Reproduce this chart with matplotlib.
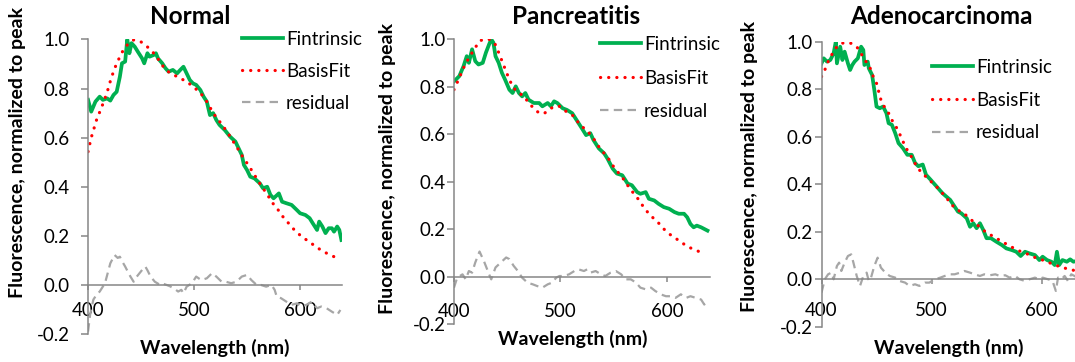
import numpy as np
import matplotlib.pyplot as plt

plt.rcParams['font.family'] = ['Lato', 'DejaVu Sans']

# ---- Normal ----
normal_wl = [400, 403, 407, 411, 414, 418, 421, 424, 427, 430, 432, 435, 437, 439, 441, 444, 447, 451,
             453, 456, 458, 462, 464, 466, 470, 473, 476, 480, 484, 487, 490, 493, 496, 499, 502, 506,
             509, 512, 515, 518, 521, 524, 529, 534, 539, 542, 545, 547, 550, 553, 557, 562, 565, 569,
             572, 575, 580, 583, 587, 592, 597, 600, 605, 609, 612, 616, 618, 621, 624, 627, 630, 632,
             635, 637, 639]
normal_fint = [0.754, 0.706, 0.747, 0.767, 0.754, 0.760, 0.751, 0.774, 0.787, 0.848, 0.903, 0.910, 1.000,
               0.944, 0.985, 0.971, 0.950, 0.923, 0.903, 0.944, 0.930, 0.937, 0.944, 0.923, 0.903, 0.883,
               0.869, 0.876, 0.862, 0.876, 0.889, 0.862, 0.835, 0.821, 0.815, 0.794, 0.767, 0.747, 0.692,
               0.700, 0.672, 0.652, 0.631, 0.604, 0.584, 0.557, 0.530, 0.489, 0.468, 0.441, 0.434, 0.414,
               0.394, 0.400, 0.367, 0.353, 0.373, 0.339, 0.333, 0.326, 0.305, 0.292, 0.285, 0.272, 0.251,
               0.224, 0.258, 0.238, 0.211, 0.231, 0.231, 0.217, 0.238, 0.224, 0.183]
normal_fit_wl = [400, 403, 408, 413, 418, 422, 427, 433, 437, 443, 448, 452, 457, 462, 467, 471, 476, 481,
                 486, 490, 495, 499, 504, 509, 513, 518, 523, 528, 532, 537, 542, 547, 551, 556, 561, 565,
                 570, 573, 578, 583, 589, 595, 602, 609, 615, 622, 627, 632]
normal_fit = [0.543, 0.600, 0.672, 0.726, 0.785, 0.845, 0.903, 0.955, 0.978, 0.998, 0.995, 0.985, 0.966,
              0.944, 0.915, 0.889, 0.868, 0.855, 0.845, 0.835, 0.822, 0.808, 0.790, 0.767, 0.740, 0.700,
              0.672, 0.643, 0.618, 0.584, 0.550, 0.514, 0.490, 0.455, 0.420, 0.394, 0.362, 0.339, 0.314,
              0.282, 0.252, 0.222, 0.195, 0.175, 0.155, 0.136, 0.125, 0.115]
normal_res_wl = [400, 402, 405, 408, 411, 416, 421, 425, 428, 430, 433, 435, 438, 440, 443, 446, 451, 454,
                 456, 459, 463, 468, 471, 474, 477, 481, 485, 488, 490, 493, 498, 502, 505, 507, 512, 517,
                 521, 526, 530, 535, 540, 545, 550, 554, 559, 563, 568, 573, 576, 578, 582, 587, 592, 597,
                 601, 606, 611, 616, 620, 625, 630, 635, 638]
normal_res = [-0.190, -0.120, -0.060, -0.040, -0.027, 0.007, 0.088, 0.122, 0.110, 0.115, 0.090, 0.075,
              0.050, 0.034, 0.013, 0.034, 0.061, 0.075, 0.060, 0.034, 0.013, 0.000, 0.005, 0.000, -0.005,
              -0.014, -0.027, -0.020, -0.034, -0.007, 0.007, 0.034, 0.025, 0.020, 0.027, 0.048, 0.034,
              0.013, 0.013, 0.007, 0.013, 0.034, 0.041, 0.020, 0.000, 0.000, -0.007, 0.000, -0.020, -0.048,
              -0.054, -0.068, -0.081, -0.075, -0.088, -0.081, -0.068, -0.095, -0.088, -0.095, -0.109,
              -0.122, -0.102]

# ---- Pancreatitis ----
panc_wl = [400, 405, 409, 412, 414, 417, 420, 423, 427, 430, 433, 435, 437, 439, 442, 445, 448, 452, 455,
           458, 461, 464, 467, 470, 475, 480, 483, 488, 491, 494, 497, 502, 506, 511, 516, 520, 524, 528,
           531, 536, 541, 544, 549, 553, 558, 563, 567, 572, 575, 580, 583, 588, 592, 597, 602, 607, 611,
           616, 619, 622, 625, 628, 632, 635, 638]
panc_fint = [0.823, 0.845, 0.887, 0.929, 0.901, 0.958, 0.908, 0.894, 0.901, 0.944, 0.979, 1.000, 0.986,
             0.929, 0.901, 0.859, 0.830, 0.788, 0.774, 0.802, 0.774, 0.760, 0.774, 0.746, 0.732, 0.732,
             0.718, 0.732, 0.718, 0.739, 0.732, 0.710, 0.703, 0.689, 0.654, 0.626, 0.597, 0.605, 0.576,
             0.541, 0.520, 0.499, 0.456, 0.435, 0.428, 0.393, 0.386, 0.357, 0.350, 0.357, 0.329, 0.322,
             0.308, 0.294, 0.287, 0.273, 0.266, 0.266, 0.251, 0.223, 0.209, 0.216, 0.209, 0.202, 0.195]
panc_fit_wl = [400, 405, 409, 414, 419, 424, 428, 433, 438, 442, 447, 452, 456, 461, 466, 470, 475, 480,
               485, 489, 494, 499, 503, 508, 513, 517, 522, 527, 532, 536, 541, 546, 550, 555, 560, 564,
               569, 574, 578, 583, 588, 593, 597, 602, 607, 611, 616, 621, 625, 630, 635]
panc_fit = [0.788, 0.838, 0.880, 0.922, 0.958, 0.993, 1.000, 1.000, 0.986, 0.944, 0.887, 0.830, 0.795,
            0.774, 0.760, 0.732, 0.710, 0.689, 0.689, 0.703, 0.718, 0.718, 0.703, 0.689, 0.675, 0.647,
            0.626, 0.605, 0.576, 0.548, 0.520, 0.492, 0.463, 0.435, 0.407, 0.379, 0.350, 0.322, 0.294,
            0.266, 0.244, 0.223, 0.202, 0.181, 0.167, 0.153, 0.138, 0.124, 0.117, 0.107, 0.099]
panc_res_wl = [400, 403, 408, 411, 414, 417, 420, 424, 428, 433, 435, 439, 444, 449, 452, 456, 460, 464,
               469, 474, 478, 483, 488, 492, 496, 499, 503, 508, 513, 517, 522, 525, 528, 533, 538, 542,
               547, 552, 557, 561, 566, 571, 575, 580, 585, 589, 594, 599, 603, 608, 613, 618, 622, 627,
               632, 635, 636]
panc_res = [-0.045, -0.003, 0.011, -0.010, 0.025, 0.018, 0.061, 0.107, 0.068, 0.011, -0.010, 0.040, 0.061,
            0.082, 0.075, 0.047, 0.025, -0.003, -0.024, -0.031, -0.038, -0.045, -0.031, -0.024, -0.003,
            0.004, 0.004, 0.011, 0.025, 0.032, 0.025, 0.032, 0.018, 0.025, 0.011, 0.004, 0.018, 0.025,
            0.011, -0.010, -0.010, -0.024, -0.045, -0.052, -0.045, -0.059, -0.073, -0.081, -0.081, -0.088,
            -0.073, -0.088, -0.081, -0.088, -0.095, -0.116, -0.109]

# ---- Adenocarcinoma ----
adeno_wl = [400, 402, 405, 408, 411, 413, 414, 417, 419, 421, 424, 426, 428, 430, 433, 436, 438, 439, 442,
            443, 446, 448, 450, 453, 456, 459, 461, 464, 467, 470, 474, 478, 482, 485, 488, 492, 495, 499,
            503, 507, 510, 517, 521, 524, 527, 532, 535, 538, 541, 544, 547, 550, 554, 559, 564, 568, 573,
            577, 581, 585, 589, 594, 598, 601, 605, 609, 612, 614, 616, 619, 623, 626, 629, 633, 636, 640]
adeno_fint = [0.909, 0.930, 0.916, 0.923, 0.951, 1.000, 0.909, 0.979, 0.923, 0.958, 0.909, 0.881, 0.902,
              0.916, 0.930, 0.979, 0.965, 0.902, 0.916, 0.888, 0.860, 0.797, 0.727, 0.720, 0.727, 0.699,
              0.657, 0.650, 0.615, 0.573, 0.552, 0.524, 0.524, 0.490, 0.476, 0.483, 0.440, 0.420, 0.399,
              0.378, 0.362, 0.334, 0.306, 0.285, 0.278, 0.257, 0.221, 0.236, 0.215, 0.236, 0.208, 0.173,
              0.173, 0.158, 0.144, 0.130, 0.123, 0.116, 0.098, 0.116, 0.109, 0.102, 0.081, 0.095, 0.081,
              0.074, 0.060, 0.116, 0.060, 0.081, 0.074, 0.084, 0.074, 0.078, 0.072, 0.075]
adeno_fit_wl = [400, 403, 406, 410, 414, 418, 423, 427, 432, 436, 439, 442, 445, 447, 450, 452, 454, 457,
                461, 464, 467, 470, 473, 476, 480, 485, 489, 493, 497, 501, 506, 510, 514, 518, 523, 527,
                531, 535, 540, 544, 549, 554, 559, 564, 570, 575, 580, 586, 591, 596, 601, 607, 612, 617,
                622, 627, 630, 635, 640]
adeno_fit = [0.853, 0.881, 0.916, 0.951, 0.979, 0.993, 0.997, 0.993, 0.979, 0.951, 0.923, 0.909, 0.881,
             0.853, 0.825, 0.790, 0.755, 0.727, 0.699, 0.670, 0.649, 0.621, 0.593, 0.558, 0.530, 0.488,
             0.460, 0.439, 0.425, 0.404, 0.383, 0.362, 0.341, 0.313, 0.299, 0.278, 0.271, 0.254, 0.236,
             0.219, 0.200, 0.186, 0.173, 0.158, 0.144, 0.130, 0.119, 0.109, 0.098, 0.088, 0.081, 0.070,
             0.060, 0.053, 0.046, 0.042, 0.036, 0.030, 0.025]
adeno_res_wl = [400, 403, 406, 409, 411, 414, 416, 418, 421, 424, 427, 429, 432, 435, 438, 441, 443, 445,
                448, 451, 454, 458, 462, 467, 471, 476, 480, 485, 489, 494, 498, 503, 508, 512, 517, 521,
                526, 530, 535, 539, 544, 548, 553, 558, 562, 567, 571, 576, 580, 585, 589, 594, 598, 601,
                606, 610, 613, 615, 618, 621, 624, 627, 630, 635, 640]
adeno_res = [-0.056, 0.000, 0.021, 0.028, 0.000, 0.056, 0.070, 0.035, 0.070, 0.098, 0.105, 0.070, 0.014,
             -0.028, 0.014, 0.028, -0.007, 0.007, 0.056, 0.091, 0.049, 0.028, 0.014, 0.007, -0.007, -0.014,
             -0.028, -0.021, -0.028, -0.014, -0.014, 0.000, 0.007, 0.014, 0.021, 0.021, 0.028, 0.035,
             0.028, 0.021, 0.014, 0.021, 0.017, 0.021, 0.014, 0.017, 0.007, 0.014, 0.000, -0.007, 0.000,
             0.007, 0.000, 0.007, 0.000, -0.007, -0.049, 0.007, 0.000, 0.014, -0.007, 0.021, 0.014, 0.000,
             -0.010]

GREEN = '#00B050'
RED = '#FF0000'
GREY = '#A6A6A6'
AXIS = '#868686'

panels = [
    dict(title='Normal', rect=[0.0819, 0.0773, 0.2367, 0.8136],
         data=(normal_wl, normal_fint, normal_fit_wl, normal_fit, normal_res_wl, normal_res),
         title_xy=(190, 16), ylab_xy=(18, 152), xlab_xy=(215, 348),
         leg_xy=(242, 31), leg_sp=0.8, xpad=9, ypad=8),
    dict(title='Pancreatitis', rect=[0.4223, 0.1036, 0.2378, 0.7878],
         data=(panc_wl, panc_fint, panc_fit_wl, panc_fit, panc_res_wl, panc_res),
         title_xy=(576, 16), ylab_xy=(387, 168), xlab_xy=(573, 339),
         leg_xy=(600, 36), leg_sp=0.88, xpad=15, ypad=1),
    dict(title='Adenocarcinoma', rect=[0.7642, 0.0972, 0.2456, 0.7876],
         data=(adeno_wl, adeno_fint, adeno_fit_wl, adeno_fit, adeno_res_wl, adeno_res),
         title_xy=(941, 16), ylab_xy=(750, 166), xlab_xy=(949, 348),
         leg_xy=(932, 59), leg_sp=0.84, xpad=13, ypad=1.5),
]

W, H = 1075, 362
fig = plt.figure(figsize=(W / 100, H / 100), dpi=100)

for p in panels:
    ax = fig.add_axes(p['rect'])
    wl, fint, fwl, fit, rwl, res = p['data']
    ax.plot(wl, fint, color=GREEN, lw=2.7, label='Fintrinsic', solid_joinstyle='round')
    ax.plot(fwl, fit, color=RED, lw=2.3, linestyle=(0, (0.05, 2.5)), dash_capstyle='round',
            label='BasisFit')
    ax.plot(rwl, res, color=GREY, lw=1.6, linestyle=(0, (3.8, 2.4)), label='residual')

    ax.set_xlim(400, 640)
    ax.set_ylim(-0.2, 1.0)
    ax.set_xticks([400, 500, 600])
    ax.set_yticks(np.arange(-0.2, 1.01, 0.2))
    ax.set_yticklabels([f'{v:.1f}' for v in np.arange(-0.2, 1.01, 0.2)])
    for s in ['top', 'right']:
        ax.spines[s].set_visible(False)
    ax.spines['bottom'].set_position(('data', 0))
    for s in ['left', 'bottom']:
        ax.spines[s].set_color(AXIS)
        ax.spines[s].set_linewidth(1.1)
    ax.tick_params(axis='both', color=AXIS, width=1.1, direction='out', labelsize=13.5)
    ax.tick_params(axis='x', pad=p['xpad'], length=3.6)
    ax.tick_params(axis='y', pad=p['ypad'], length=5)

    lx, ly = p['leg_xy']
    ax.legend(loc='upper left', bbox_to_anchor=(lx / W, 1 - ly / H), bbox_transform=fig.transFigure,
              frameon=False, borderpad=0, borderaxespad=0, fontsize=13.5, handlelength=2.2,
              handletextpad=0.15, labelspacing=p['leg_sp'])

    tx, ty = p['title_xy']
    fig.text(tx / W, 1 - ty / H, p['title'], ha='center', va='center', fontsize=17.5, fontweight='bold')
    yx, yy = p['ylab_xy']
    fig.text(yx / W, 1 - yy / H, 'Fluorescence, normalized to peak', rotation=90, ha='center',
             va='center', fontsize=14, fontweight='bold')
    xx, xy = p['xlab_xy']
    fig.text(xx / W, 1 - xy / H, 'Wavelength (nm)', ha='center', va='center', fontsize=14,
             fontweight='bold')

fig.savefig('out.png', dpi=100)
